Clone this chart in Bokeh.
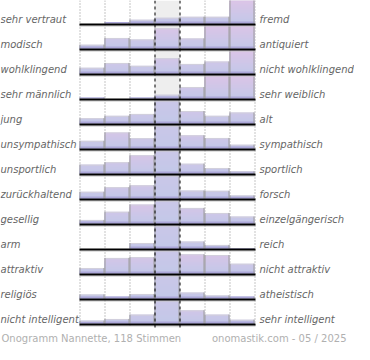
import math
from bokeh.plotting import figure
from bokeh.models import Range1d
from bokeh.core.properties import value
from bokeh.embed import file_html
from bokeh.resources import INLINE

left_labels = ["sehr vertraut", "modisch", "wohlklingend", "sehr männlich", " jung",
               "unsympathisch", "unsportlich", "zurückhaltend", "gesellig", "arm",
               "attraktiv", "religiös", "nicht intelligent"]
right_labels = ["fremd", "antiquiert", "nicht wohlklingend", "sehr weiblich", "alt",
                "sympathisch", "sportlich", "forsch", "einzelgängerisch", "reich",
                "nicht attraktiv", "atheistisch", "sehr intelligent"]

# bar heights in % of the row height for the 7 answer steps (step 4 = neutral);
# values above 100 are clipped at the row height
row_1 = [0, 6, 16, 24, 28, 28, 100]
row_2 = [16, 44, 38, 84, 42, 100, 100]
row_3 = [24, 44, 32, 64, 40, 50, 100]
row_4 = [4, 0, 4, 16, 48, 100, 100]
row_5 = [22, 32, 40, 300, 52, 32, 46]
row_6 = [32, 67, 43, 300, 55, 44, 16]
row_7 = [37, 47, 76, 300, 41, 23, 9]
row_8 = [28, 47, 55, 300, 33, 32, 13]
row_9 = [15, 49, 79, 300, 65, 44, 29]
row_10 = [0, 0, 23, 300, 29, 15, 2]
row_11 = [23, 65, 68, 300, 80, 77, 41]
row_12 = [17, 8, 19, 300, 25, 13, 8]
row_13 = [12, 19, 37, 300, 55, 37, 16]
rows = [row_1, row_2, row_3, row_4, row_5, row_6, row_7, row_8, row_9,
        row_10, row_11, row_12, row_13]

footer_left = "Onogramm Nannette, 118 Stimmen"
footer_right = "onomastik.com - 05 / 2025"

# layout (pixels)
W, H = 354, 344
X0, CW, NC = 79, 25, 7
Y0, RH = 24, 25
NR = len(rows)
BOTTOM = Y0 + (NR - 1) * RH + 3

C_LOW = (194, 200, 232)
C_HIGH = (221, 196, 231)
C_BAND = "#aba6d8"


def mix(t):
    t = max(0.0, min(1.0, t))
    r, g, b = (round(a + (bb - a) * t) for a, bb in zip(C_LOW, C_HIGH))
    return "#%02x%02x%02x" % (r, g, b)


p = figure(width=W, height=H, output_backend="svg", toolbar_location=None,
           x_range=Range1d(0, W), y_range=Range1d(H, 0), min_border=0)
p.axis.visible = False
p.grid.visible = False
p.outline_line_color = None
p.background_fill_color = "white"
p.border_fill_color = "white"

# neutral column shading
p.quad(left=[X0 + 3 * CW], right=[X0 + 4 * CW], top=[0], bottom=[BOTTOM],
       fill_color="#eeeeee", line_color=None)

# dotted column lines
dot_x = [X0 + c * CW + 0.5 for c in (0, 1, 2, 5, 6, 7)]
p.segment(x0=dot_x, y0=[0] * len(dot_x), x1=dot_x, y1=[BOTTOM] * len(dot_x),
          line_color="#8a8a8a", line_width=1, line_dash="1 2")

# bars: gradient built from nested quads (tallest first, each painted from the base)
ql, qr, qt, qb, qc = [], [], [], [], []
band_l, band_r, band_t, band_b = [], [], [], []
el_x, el_y0, el_y1 = [], [], []
tl_x0, tl_x1, tl_y = [], [], []
for r, vals in enumerate(rows):
    base = Y0 + r * RH - 1
    full = RH - 1
    for c, v in enumerate(vals):
        if v <= 0:
            continue
        h = min(v, 100) / 100 * full
        span = max(v, 100) / 100 * full
        n = max(1, int(math.ceil(h / 1.5)))
        left = X0 + c * CW
        for k in reversed(range(n)):
            y0 = h * k / n
            y1 = h * (k + 1) / n
            ql.append(left)
            qr.append(left + CW)
            qb.append(base)
            qt.append(base - y1)
            qc.append(mix((y0 + y1) / 2 / span))
        band_l.append(left)
        band_r.append(left + CW)
        band_b.append(base)
        band_t.append(base - min(h, 2))
        for ex in (left + 0.5, left + CW - 0.5):
            el_x.append(ex)
            el_y0.append(base)
            el_y1.append(base - h)
        if h >= 2:
            tl_x0.append(left)
            tl_x1.append(left + CW)
            tl_y.append(base - h + 0.5)

p.quad(left=ql, right=qr, top=qt, bottom=qb, fill_color=qc, line_color=None)
p.quad(left=band_l, right=band_r, top=band_t, bottom=band_b,
       fill_color=C_BAND, line_color=None)
p.segment(x0=tl_x0, y0=tl_y, x1=tl_x1, y1=tl_y, line_color="#d2d0dc", line_width=1)
p.segment(x0=el_x, y0=el_y0, x1=el_x, y1=el_y1, line_color="#9c9c9c", line_width=1)

# baselines with a faint shadow
base_y = [Y0 + r * RH for r in range(NR)]
p.segment(x0=[X0] * NR, y0=[y + 1.5 for y in base_y], x1=[X0 + NC * CW + 1] * NR,
          y1=[y + 1.5 for y in base_y], line_color="#c4c4c4", line_width=1)
p.segment(x0=[X0] * NR, y0=base_y, x1=[X0 + NC * CW + 1] * NR, y1=base_y,
          line_color="black", line_width=2)

# dashed neutral column borders
dash_x = [X0 + 3 * CW + 0.5, X0 + 4 * CW + 0.5]
p.segment(x0=dash_x, y0=[0, 0], x1=dash_x, y1=[BOTTOM, BOTTOM],
          line_color="black", line_width=1, line_dash="3 3")

# labels
label_y = [y - 5 for y in base_y]
p.text(x=[0] * NR, y=label_y, text=left_labels, text_font=value("DejaVu Sans"),
       text_font_style="italic", text_font_size="10px", text_color="#666666",
       text_baseline="middle", text_align="left")
p.text(x=[X0 + NC * CW + 5] * NR, y=label_y, text=right_labels,
       text_font=value("DejaVu Sans"), text_font_style="italic",
       text_font_size="10px", text_color="#666666",
       text_baseline="middle", text_align="left")

# footer
foot_y = base_y[-1] + 14
p.text(x=[1], y=[foot_y], text=[footer_left], text_font=value("DejaVu Sans"),
       text_font_size="10px", text_color="#b0b0b0", text_baseline="middle",
       text_align="left")
p.text(x=[346], y=[foot_y], text=[footer_right], text_font=value("DejaVu Sans"),
       text_font_size="10px", text_color="#b0b0b0", text_baseline="middle",
       text_align="right")

open("out.html", "w").write(file_html(p, INLINE))
